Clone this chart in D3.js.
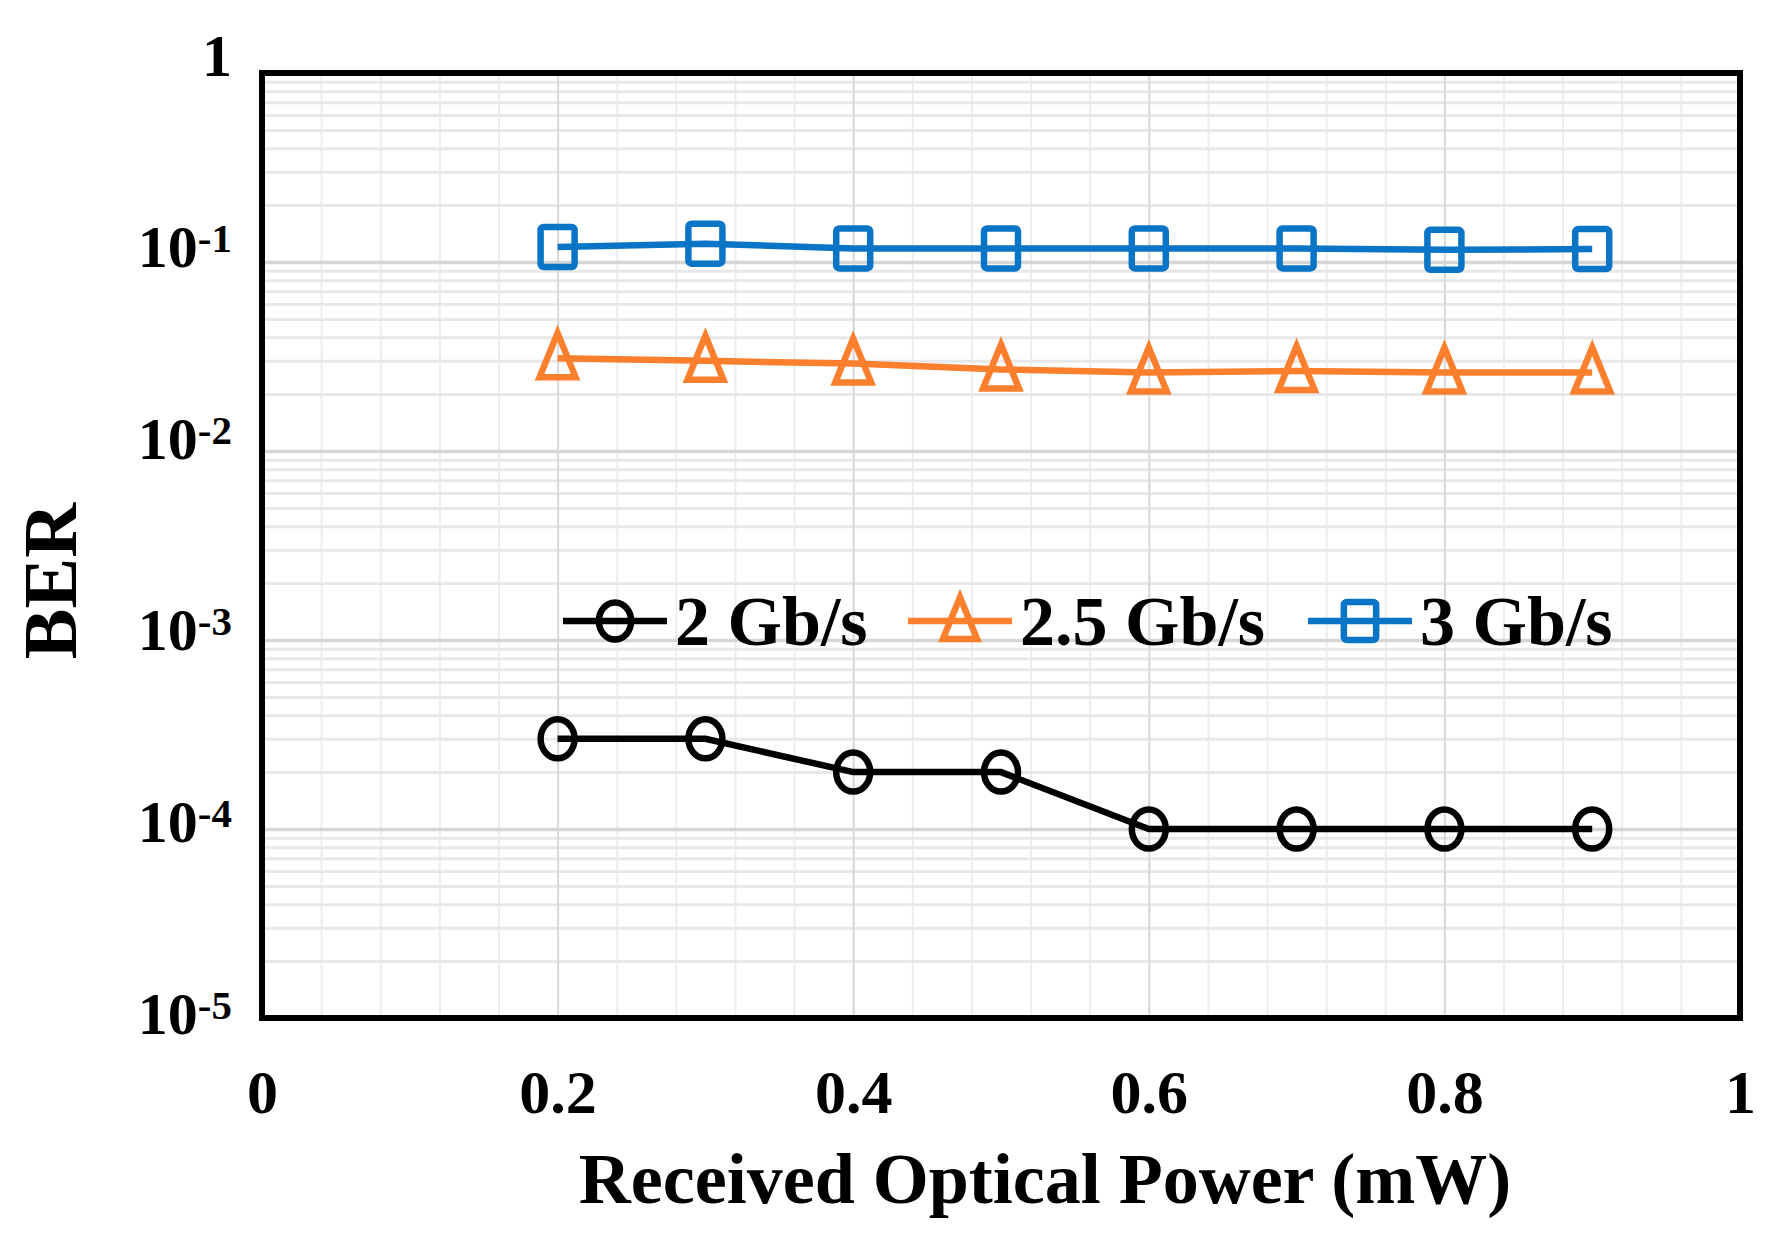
<!DOCTYPE html>
<html>
<head>
<meta charset="utf-8">
<script src="https://cdn.jsdelivr.net/npm/d3@7"></script>
<style>
  body { margin: 0; background: #fff; }
  svg text { font-family: "Liberation Serif", "Times New Roman", serif; font-weight: bold; fill: #000; }
</style>
</head>
<body>
<svg id="chart" width="1776" height="1244"></svg>
<script>
// data
const power = [0.2, 0.3, 0.4, 0.5, 0.6, 0.7, 0.8, 0.9];
const ber2 = [3e-4, 3e-4, 2e-4, 2e-4, 1e-4, 1e-4, 1e-4, 1e-4];
const ber25 = [0.031, 0.030, 0.029, 0.027, 0.026, 0.0265, 0.026, 0.026];
const ber3 = [0.12, 0.125, 0.118, 0.118, 0.118, 0.118, 0.116, 0.117];
const seriesNames = ["2 Gb/s", "2.5 Gb/s", "3 Gb/s"];
const xTicks = [0, 0.2, 0.4, 0.6, 0.8, 1];
const yTicks = [1, 1e-1, 1e-2, 1e-3, 1e-4, 1e-5];

const svg = d3.select("#chart");
const margin = { top: 73, right: 36, bottom: 226, left: 262 };
const width = 1776, height = 1244;

const x = d3.scaleLinear().domain([0, 1]).range([margin.left, width - margin.right]);
const y = d3.scaleLog().domain([1e-5, 1]).range([height - margin.bottom, margin.top]);

// minor grid
const xMinor = d3.range(0, 1.0001, 0.04);
const yMinor = [];
for (let e = -5; e < 0; e++) for (let m = 2; m <= 9; m++) yMinor.push(m * Math.pow(10, e));

const grid = svg.append("g");
grid.append("g")
  .attr("transform", `translate(0,${y(1e-5)})`)
  .call(d3.axisBottom(x).tickValues(xMinor).tickSize(-(y(1e-5) - y(1))).tickFormat(""))
  .call(g => g.select(".domain").remove())
  .call(g => g.selectAll("line").attr("stroke", "#ededed").attr("stroke-width", 2));
grid.append("g")
  .attr("transform", `translate(${x(0)},0)`)
  .call(d3.axisLeft(y).tickValues(yMinor).tickSize(-(x(1) - x(0))).tickFormat(""))
  .call(g => g.select(".domain").remove())
  .call(g => g.selectAll("line").attr("stroke", "#e8e8e8").attr("stroke-width", 3));
// major grid
grid.append("g")
  .attr("transform", `translate(0,${y(1e-5)})`)
  .call(d3.axisBottom(x).tickValues(xTicks).tickSize(-(y(1e-5) - y(1))).tickFormat(""))
  .call(g => g.select(".domain").remove())
  .call(g => g.selectAll("line").attr("stroke", "#d9d9d9").attr("stroke-width", 2));
grid.append("g")
  .attr("transform", `translate(${x(0)},0)`)
  .call(d3.axisLeft(y).tickValues(yTicks).tickSize(-(x(1) - x(0))).tickFormat(""))
  .call(g => g.select(".domain").remove())
  .call(g => g.selectAll("line").attr("stroke", "#d6d6d6").attr("stroke-width", 3.5));

// frame
svg.append("rect")
  .attr("x", x(0)).attr("y", y(1))
  .attr("width", x(1) - x(0)).attr("height", y(1e-5) - y(1))
  .attr("fill", "none").attr("stroke", "#000").attr("stroke-width", 6);

// y axis labels with superscripts
const yAxis = svg.append("g")
  .attr("transform", `translate(232,0)`)
  .call(d3.axisLeft(y).tickValues(yTicks).tickSize(0).tickPadding(0).tickFormat(""))
  .call(g => g.select(".domain").remove());
yAxis.selectAll(".tick text").each(function (d) {
  const e = Math.round(Math.log10(d));
  const t = d3.select(this)
    .attr("x", 0).attr("dy", null)
    .attr("y", 2 - e * 2.6)
    .attr("text-anchor", "end")
    .style("font-size", "60px");
  if (e === 0) {
    t.text("1");
  } else {
    t.append("tspan").text("10");
    t.append("tspan").attr("dy", -15).style("font-size", "41px").text(e);
  }
});

// x axis labels
svg.append("g")
  .attr("transform", `translate(0,${y(1e-5)})`)
  .call(d3.axisBottom(x).tickValues(xTicks).tickSize(0).tickFormat(d3.format("")))
  .call(g => g.select(".domain").remove())
  .call(g => g.selectAll("text")
    .attr("y", 95).attr("dy", null)
    .style("font-size", "62px"));

// axis titles
svg.append("text")
  .attr("x", 1045).attr("y", 1203)
  .attr("text-anchor", "middle")
  .style("font-size", "72px")
  .text("Received Optical Power (mW)");
svg.append("text")
  .attr("transform", "translate(76,581) rotate(-90)")
  .attr("text-anchor", "middle")
  .style("font-size", "76px")
  .text("BER");

// markers
function drawMarker(g, shape, color, s) {
  if (shape === "circle") {
    g.append("ellipse").attr("rx", 17 * s).attr("ry", 19.5 * s);
  } else if (shape === "triangle") {
    g.append("path").attr("d",
      `M0,${-25 * s}L${18 * s},${19 * s}L${-18 * s},${19 * s}Z`);
  } else {
    g.append("rect").attr("x", -17 * s).attr("y", -20 * s)
      .attr("width", 34 * s).attr("height", 40 * s).attr("rx", 3);
  }
  g.selectAll("*").attr("fill", "none").attr("stroke", color).attr("stroke-width", 6.5);
}

const series = [
  { name: seriesNames[0], values: ber2, color: "#000000", shape: "circle" },
  { name: seriesNames[1], values: ber25, color: "#FB7F2C", shape: "triangle" },
  { name: seriesNames[2], values: ber3, color: "#0A74C6", shape: "square" }
];

const line = d3.line().x(d => x(d[0])).y(d => y(d[1]));
series.forEach(s => {
  const pts = power.map((p, i) => [p, s.values[i]]);
  svg.append("path")
    .datum(pts)
    .attr("d", line)
    .attr("fill", "none")
    .attr("stroke", s.color)
    .attr("stroke-width", 6.5);
  svg.append("g").selectAll("g")
    .data(pts)
    .join("g")
    .attr("transform", d => `translate(${x(d[0])},${y(d[1])})`)
    .each(function () { drawMarker(d3.select(this), s.shape, s.color, 1); });
});

// legend
const legendX = [563, 908, 1308];
const legend = svg.append("g");
series.forEach((s, i) => {
  const g = legend.append("g").attr("transform", `translate(${legendX[i]},621)`);
  g.append("line").attr("x1", 0).attr("x2", 104)
    .attr("stroke", s.color).attr("stroke-width", 6.5);
  drawMarker(g.append("g").attr("transform", "translate(52,0)"), s.shape, s.color, 0.95);
  g.append("text").attr("x", 112).attr("y", 24)
    .style("font-size", "70px")
    .text(s.name);
});
</script>
</body>
</html>
